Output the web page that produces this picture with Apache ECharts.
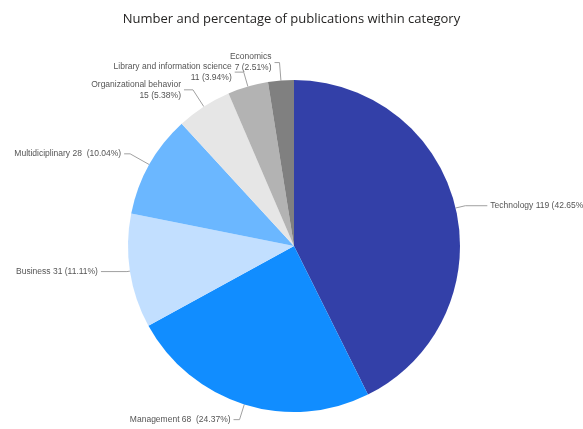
<!DOCTYPE html>
<html><head><meta charset="utf-8">
<script src="https://cdn.jsdelivr.net/npm/echarts@6/dist/echarts.min.js"></script>
<style>html,body{margin:0;padding:0;background:#fff}#c{width:583px;height:429px}</style>
</head><body><div id="c"></div>
<script>
const categories = ["Technology","Management","Business","Multidiciplinary","Organizational behavior","Library and information science","Economics"];
const values = [119, 68, 31, 28, 15, 11, 7];
const colors = ["#3340A8","#118DFF","#C2DFFF","#6BB7FF","#E6E6E6","#B3B3B3","#808080"];
const twoLine = [false,false,false,false,true,true,true];
const gap = ["", " ", "", " ", "", "", ""];
const lineLen = [10, 16, 3, 22, 20, 15, 18];
const lineLen2 = [22, 6, 26, 6, 9, 9, 5];

const chart = echarts.init(document.getElementById('c'));
chart.setOption({
  animation:false,
  title:{text:"Number and percentage of publications within category",left:'center',top:8,
    textStyle:{fontFamily:"Open Sans",fontSize:13,fontWeight:'normal',color:'#252423'}},
  series:[{
    type:'pie',
    center:[294,246],
    radius:[0,166],
    startAngle:90,
    clockwise:true,
    avoidLabelOverlap:false,
    labelLayout:{hideOverlap:false},
    data: categories.map((n,i)=>({name:n,value:values[i],itemStyle:{color:colors[i]},
      label:{align: twoLine[i] ? 'right':'left'},
      labelLine:{length:lineLen[i],length2:lineLen2[i]}})),
    label:{
      fontFamily:"Liberation Sans",fontSize:8.5,color:'#555555',lineHeight:11,distanceToLabelLine:3,
      formatter:p=>{
        const i=p.dataIndex;
        return twoLine[i] ? p.name+"\n"+p.value+" ("+p.percent.toFixed(2)+"%)"
                          : p.name+" "+p.value+gap[i]+" ("+p.percent.toFixed(2)+"%)";
      }
    },
    percentPrecision:2,
    labelLine:{lineStyle:{color:'#A0A0A0',width:1}}
  }]
});
</script></body></html>
